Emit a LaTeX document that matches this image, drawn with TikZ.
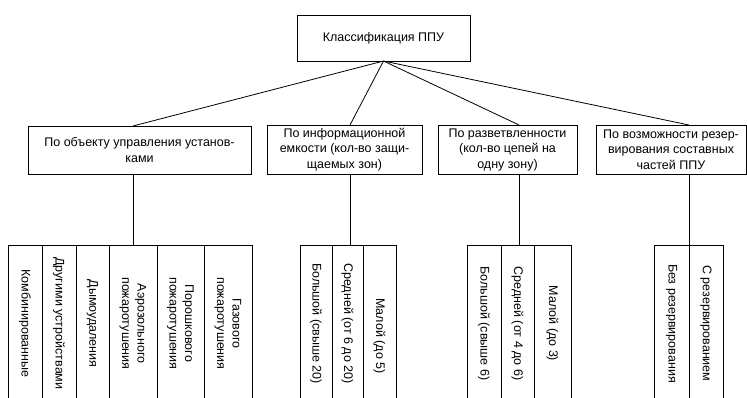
\documentclass[tikz,border=0pt]{standalone}
\usepackage{fontspec}
\setmainfont{Liberation Sans}
\begin{document}
\begin{tikzpicture}[x=1pt,y=-1pt, font=\fontsize{12.5}{15.5}\selectfont,
  box/.style={draw, line width=0.9pt, inner sep=0pt, outer sep=0pt, align=center},
  leaf/.style={draw, line width=0.9pt, rotate=-90, inner sep=0pt, outer sep=0pt, align=center, minimum width=157pt},
  conn/.style={line width=0.8pt}]
\useasboundingbox (0,0) rectangle (747,397);
\clip (0,0) rectangle (747,397);
% top
\node[box, minimum width=173pt, minimum height=46pt] (top) at (383.5,38) {Классификация ППУ};
% categories
\node[box, minimum width=223pt, minimum height=48pt] (c1) at (139.5,150) {По объекту управления установ-\\ками};
\node[box, minimum width=155pt, minimum height=49pt] (c2) at (344.5,149.5) {По информационной\\емкости (кол-во защи-\\щаемых зон)};
\node[box, minimum width=139pt, minimum height=49pt] (c3) at (507.5,149.5) {По разветвленности\\(кол-во цепей на\\одну зону)};
\node[box, minimum width=150pt, minimum height=49pt] (c4) at (671,149.5) {По возможности резер-\\вирования составных\\частей ППУ};
% leaves group 1
\node[leaf, minimum height=34pt] (l11) at (25,323.5) {Комбинированные};
\node[leaf, minimum height=34pt] (l12) at (59,323.5) {Другими устройствами};
\node[leaf, minimum height=33pt] (l13) at (92.5,323.5) {Дымоудаления};
\node[leaf, minimum height=48pt] (l14) at (133,323.5) {Аэрозольного\\пожаротушения};
\node[leaf, minimum height=47pt] (l15) at (180.5,323.5) {Порошкового\\пожаротушения};
\node[leaf, minimum height=48pt] (l16) at (228,323.5) {Газового\\пожаротушения};
% leaves group 2
\node[leaf, minimum height=32pt] (l21) at (316,323.5) {Большой (свыше 20)};
\node[leaf, minimum height=31pt] (l22) at (347.5,323.5) {Средней (от 6 до 20)};
\node[leaf, minimum height=33pt] (l23) at (379.5,323.5) {\hspace*{25pt}Малой (до 5)};
% leaves group 3
\node[leaf, minimum height=34pt] (l31) at (484,323.5) {Большой (свыше 6)};
\node[leaf, minimum height=33pt] (l32) at (517.5,323.5) {Средней (от 4 до 6)};
\node[leaf, minimum height=37pt] (l33) at (552.5,323.5) {Малой (до 3)};
% leaves group 4
\node[leaf, minimum height=35pt] (l41) at (671.5,323.5) {Без резервирования};
\node[leaf, minimum height=34pt] (l42) at (706,323.5) {С резервированием};
% junctions
\coordinate (j1) at (133,245);
\coordinate (j2) at (350,245);
\coordinate (j3) at (519,245);
\coordinate (j4) at (689,245);
% connectors
\draw[conn] (top.south) -- (c1.north -| j1);
\draw[conn] (top.south) -- (c2.north -| j2);
\draw[conn] (top.south) -- (c3.north -| j3);
\draw[conn] (top.south) -- (c4.north -| j4);
\draw[conn] (c1.south -| j1) -- (j1);
\draw[conn] (c2.south -| j2) -- (j2);
\draw[conn] (c3.south -| j3) -- (j3);
\draw[conn] (c4.south -| j4) -- (j4);
\end{tikzpicture}
\end{document}
